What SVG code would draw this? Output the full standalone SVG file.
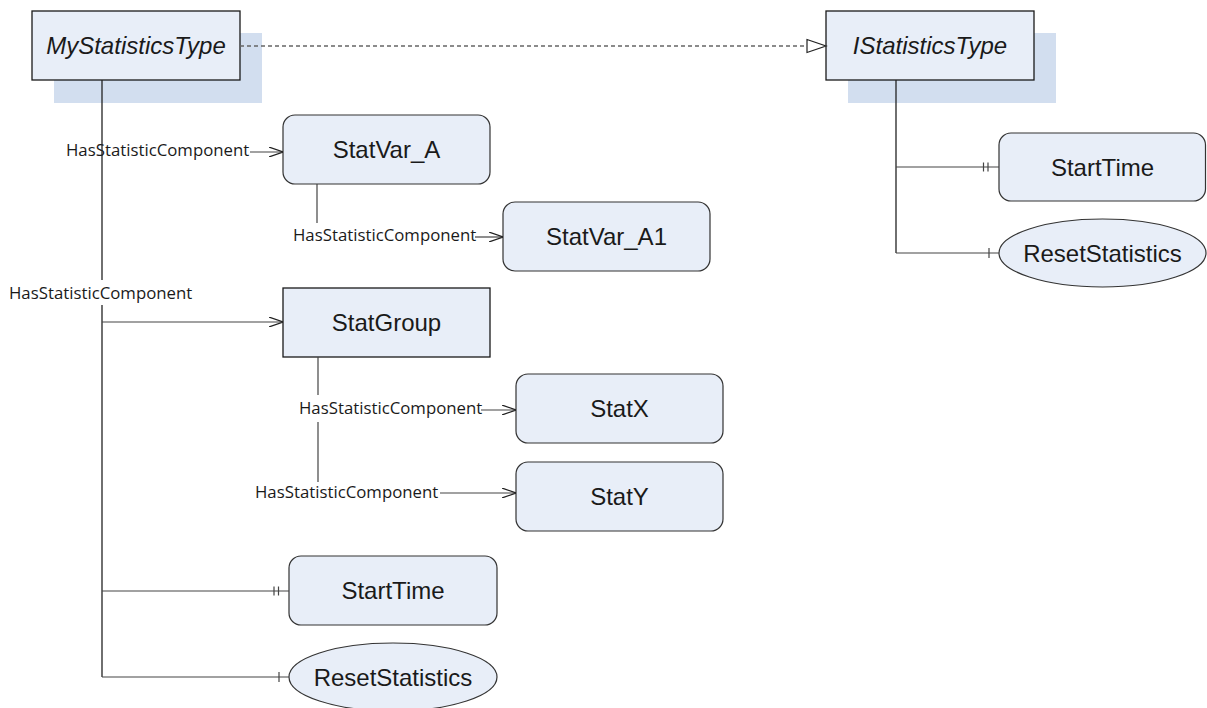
<svg xmlns="http://www.w3.org/2000/svg" width="1207" height="708" viewBox="0 0 1207 708">
<style>
.bg{fill:#ffffff}
.shadow{fill:#D2DEEF}
.box{fill:#E8EEF8;stroke:#1a1a1a;stroke-width:1.3}
.rbox{fill:#E8EEF8;stroke:#333333;stroke-width:1.2}
.nt{font-family:"Liberation Sans",Arial,sans-serif;font-size:24px;fill:#1a1a1a;text-anchor:middle}
.it{font-style:italic}
.lbl{font-family:"Open Sans","DejaVu Sans",sans-serif;font-size:16.8px;fill:#1a1a1a}
.ln{fill:none;stroke:#222222;stroke-width:1.3}
.sub{fill:none;stroke:#444444;stroke-width:1.2}
.dash{fill:none;stroke:#666666;stroke-width:1.5;stroke-dasharray:4 3}
</style>
<defs>
<marker id="open" viewBox="0 0 14 10" refX="14" refY="5" markerWidth="14" markerHeight="10" markerUnits="userSpaceOnUse" orient="auto">
<path d="M0,0 L14,5 L0,10" fill="none" stroke="#222222" stroke-width="1.2"/>
</marker>
</defs>
<rect class="bg" x="0" y="0" width="1207" height="708"/>

<g id="MyStatisticsType">
<rect class="shadow" x="54" y="33" width="208" height="70"/>
<rect class="box" x="32" y="11" width="208" height="69"/>
<text class="nt it" x="136" y="54">MyStatisticsType</text>
</g>
<g id="IStatisticsType">
<rect class="shadow" x="848" y="33" width="208" height="70"/>
<rect class="box" x="826" y="11" width="208" height="69"/>
<text class="nt it" x="930" y="54">IStatisticsType</text>
</g>
<g id="StatVar_A">
<rect class="rbox" x="283" y="115" width="207" height="69" rx="12"/>
<text class="nt" x="386.5" y="158">StatVar_A</text>
</g>
<g id="StatVar_A1">
<rect class="rbox" x="503" y="202" width="207" height="69" rx="12"/>
<text class="nt" x="606.5" y="245">StatVar_A1</text>
</g>
<g id="StatGroup">
<rect class="box" x="283" y="288" width="207" height="69"/>
<text class="nt" x="386.5" y="331">StatGroup</text>
</g>
<g id="StatX">
<rect class="rbox" x="516" y="374" width="207" height="69" rx="12"/>
<text class="nt" x="619.5" y="417">StatX</text>
</g>
<g id="StatY">
<rect class="rbox" x="516" y="462" width="207" height="69" rx="12"/>
<text class="nt" x="619.5" y="505">StatY</text>
</g>
<g id="StartTime_L">
<rect class="rbox" x="289" y="556" width="208" height="69" rx="12"/>
<text class="nt" x="393" y="599">StartTime</text>
</g>
<g id="ResetStatistics_L">
<ellipse class="rbox" cx="393" cy="677" rx="104" ry="34"/>
<text class="nt" x="393" y="685.5">ResetStatistics</text>
</g>
<g id="StartTime_R">
<rect class="rbox" x="999" y="133" width="206.5" height="68" rx="12"/>
<text class="nt" x="1102.5" y="175.5">StartTime</text>
</g>
<g id="ResetStatistics_R">
<ellipse class="rbox" cx="1102.5" cy="253" rx="103.5" ry="34"/>
<text class="nt" x="1102.5" y="261.5">ResetStatistics</text>
</g>

<g id="connectors">
<!-- generalization -->
<line class="dash" x1="240" y1="46" x2="807" y2="46"/>
<path d="M807,39.5 L826,46 L807,52.5 Z" fill="#ffffff" stroke="#222222" stroke-width="1.2"/>

<!-- MyStatisticsType trunk -->
<text class="lbl" x="66" y="156">HasStatisticComponent</text>
<line class="sub" x1="250" y1="152" x2="283" y2="152" marker-end="url(#open)"/>
<line class="ln" x1="102" y1="80" x2="102" y2="280"/>
<line class="ln" x1="102" y1="305" x2="102" y2="677"/>
<text class="lbl" x="9" y="299">HasStatisticComponent</text>
<line class="sub" x1="102" y1="322" x2="283" y2="322" marker-end="url(#open)"/>
<line class="sub" x1="102" y1="591" x2="289" y2="591"/>
<line class="sub" x1="274" y1="586.5" x2="274" y2="595.5"/>
<line class="sub" x1="278.5" y1="586.5" x2="278.5" y2="595.5"/>
<line class="sub" x1="102" y1="677" x2="289" y2="677"/>
<line class="sub" x1="279" y1="672" x2="279" y2="682"/>

<!-- StatVar_A -> StatVar_A1 -->
<line class="sub" x1="317" y1="184" x2="317" y2="223"/>
<text class="lbl" x="293" y="241">HasStatisticComponent</text>
<line class="sub" x1="475" y1="237" x2="503" y2="237" marker-end="url(#open)"/>

<!-- StatGroup -> StatX, StatY -->
<line class="sub" x1="318" y1="357" x2="318" y2="395"/>
<line class="sub" x1="318" y1="422" x2="318" y2="482"/>
<text class="lbl" x="299" y="414">HasStatisticComponent</text>
<line class="sub" x1="481" y1="410" x2="516" y2="410" marker-end="url(#open)"/>
<text class="lbl" x="255" y="498">HasStatisticComponent</text>
<line class="sub" x1="440" y1="493" x2="516" y2="493" marker-end="url(#open)"/>

<!-- IStatisticsType trunk -->
<line class="ln" x1="896" y1="80" x2="896" y2="253"/>
<line class="sub" x1="896" y1="167" x2="999" y2="167"/>
<line class="sub" x1="983.5" y1="162.5" x2="983.5" y2="171.5"/>
<line class="sub" x1="988" y1="162.5" x2="988" y2="171.5"/>
<line class="sub" x1="896" y1="253" x2="999" y2="253"/>
<line class="sub" x1="989" y1="248" x2="989" y2="258"/>
</g>
</svg>
